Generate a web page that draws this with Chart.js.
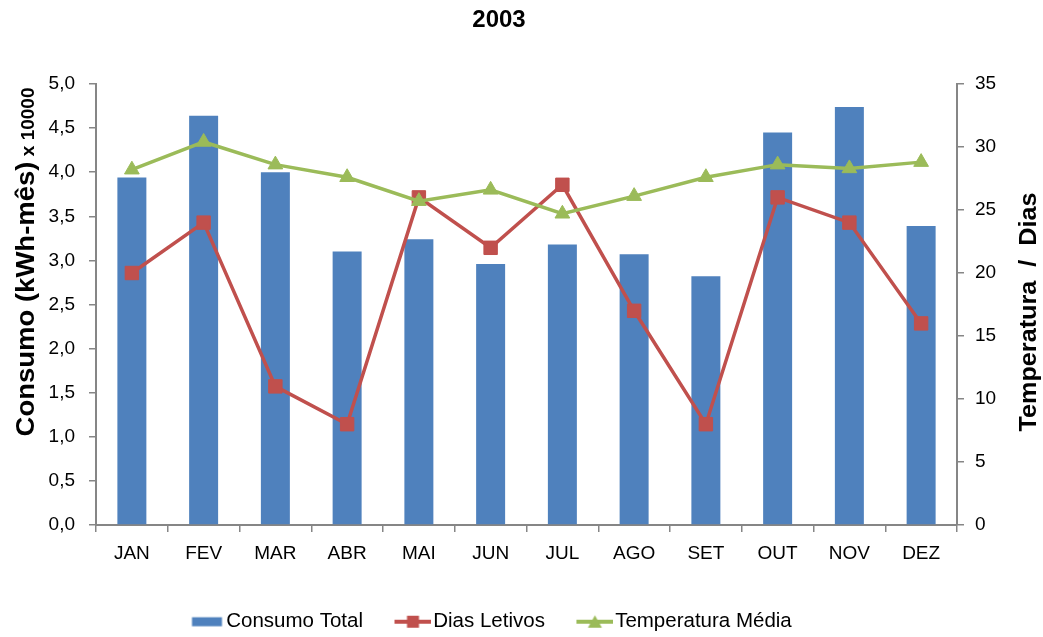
<!DOCTYPE html>
<html>
<head>
<meta charset="utf-8">
<title>2003</title>
<script src="https://cdn.jsdelivr.net/npm/chart.js@4/dist/chart.umd.min.js"></script>
<style>
    html, body { margin: 0; padding: 0; background: #fff; }
    #chart { display: block; }
</style>
</head>
<body>
<canvas id="chart" width="1043" height="637"></canvas>
<script>
const months = ["JAN", "FEV", "MAR", "ABR", "MAI", "JUN", "JUL", "AGO", "SET", "OUT", "NOV", "DEZ"];
const consumoTotal = [3.94, 4.64, 4.00, 3.10, 3.24, 2.96, 3.18, 3.07, 2.82, 4.45, 4.74, 3.39];
const diasLetivos = [20, 24, 11, 8, 26, 22, 27, 17, 8, 26, 24, 16];
const temperaturaMedia = [28.2, 30.4, 28.6, 27.6, 25.7, 26.6, 24.7, 26.1, 27.6, 28.6, 28.3, 28.8];

const leftTicks = [0, 0.5, 1, 1.5, 2, 2.5, 3, 3.5, 4, 4.5, 5];
const rightTicks = [0, 5, 10, 15, 20, 25, 30, 35];

const FONT = '"Liberation Sans", Arial, sans-serif';
const BLUE = "#4F81BD";
const RED = "#C0504D";
const GREEN = "#9BBB59";
const AXIS = "#868686";

// legend symbols: drawn right-aligned so the text sits close to them
function legendIcon(kind, color) {
    const c = document.createElement("canvas");
    c.width = 57;
    c.height = 16;
    const g = c.getContext("2d");
    g.fillStyle = color;
    g.strokeStyle = color;
    if (kind === "box") {
        g.fillRect(24.5, 3.5, 30, 9);
        return c;
    }
    g.lineWidth = 4;
    g.beginPath();
    g.moveTo(20, 8);
    g.lineTo(57, 8);
    g.stroke();
    g.beginPath();
    if (kind === "square") {
        g.rect(32.5, 2, 12, 12);
    } else {
        g.moveTo(38.5, 1.5);
        g.lineTo(45.5, 14);
        g.lineTo(31.5, 14);
        g.closePath();
    }
    g.fill();
    return c;
}

const icons = [legendIcon("box", BLUE), legendIcon("square", RED), legendIcon("triangle", GREEN)];

const titlesPlugin = {
    id: "titles",
    afterDraw(chart) {
        const ctx = chart.ctx;
        ctx.save();
        ctx.fillStyle = "#000";

        ctx.font = "bold 24px " + FONT;
        ctx.textAlign = "center";
        ctx.textBaseline = "middle";
        ctx.fillText("2003", 499, 20);

        // left axis title, two sizes on one rotated line
        const partA = "Consumo (kWh-mês)";
        const partB = " x 10000";
        const stretch = 1.1;
        ctx.textAlign = "left";
        ctx.textBaseline = "alphabetic";
        ctx.font = "bold 25px " + FONT;
        const wA = ctx.measureText(partA).width * stretch;
        ctx.font = "bold 19px " + FONT;
        const wB = ctx.measureText(partB).width;
        const start = -(wA + wB) / 2;
        ctx.save();
        ctx.translate(0, 262);
        ctx.rotate(-Math.PI / 2);
        ctx.save();
        ctx.translate(start, 34);
        ctx.scale(stretch, 1);
        ctx.font = "bold 25px " + FONT;
        ctx.fillText(partA, 0, 0);
        ctx.restore();
        ctx.font = "bold 19px " + FONT;
        ctx.fillText(partB, start + wA, 34);
        ctx.restore();

        // right axis title
        ctx.save();
        ctx.translate(1036, 312);
        ctx.rotate(-Math.PI / 2);
        ctx.scale(1.05, 1);
        ctx.font = "bold 24px " + FONT;
        ctx.textAlign = "center";
        ctx.fillText("Temperatura  /  Dias", 0, 0);
        ctx.restore();

        ctx.restore();
    }
};

const ctx = document.getElementById("chart").getContext("2d");

new Chart(ctx, {
    data: {
        labels: months,
        datasets: [
            {
                type: "bar",
                label: "Consumo Total",
                data: consumoTotal,
                yAxisID: "y",
                backgroundColor: BLUE,
                barPercentage: 0.404,
                categoryPercentage: 1,
                order: 3
            },
            {
                type: "line",
                label: "Dias Letivos",
                data: diasLetivos,
                yAxisID: "y1",
                borderColor: RED,
                backgroundColor: RED,
                borderWidth: 3.5,
                pointStyle: "rect",
                pointRadius: 9.5,
                pointBorderWidth: 1,
                tension: 0,
                order: 2
            },
            {
                type: "line",
                label: "Temperatura Média",
                data: temperaturaMedia,
                yAxisID: "y1",
                borderColor: GREEN,
                backgroundColor: GREEN,
                borderWidth: 3.5,
                pointStyle: "triangle",
                pointRadius: 8.5,
                pointBorderWidth: 1,
                tension: 0,
                order: 1
            }
        ]
    },
    options: {
        responsive: false,
        animation: false,
        // uneven side padding keeps the legend row where it belongs
        layout: { padding: { top: 84, left: -31.25, right: 44, bottom: -5 } },
        plugins: {
            title: { display: false },
            tooltip: { enabled: false },
            legend: {
                position: "bottom",
                labels: {
                    usePointStyle: true,
                    pointStyleWidth: 40,
                    padding: 20,
                    color: "#000",
                    font: { family: FONT, size: 20.5 },
                    generateLabels(chart) {
                        return chart.data.datasets.map((ds, i) => ({
                            text: ds.label,
                            pointStyle: icons[i],
                            fillStyle: ds.backgroundColor,
                            strokeStyle: ds.borderColor || ds.backgroundColor,
                            lineWidth: 0,
                            hidden: false,
                            datasetIndex: i
                        }));
                    }
                }
            }
        },
        scales: {
            x: {
                grid: { display: true, drawOnChartArea: false, offset: true, color: AXIS, tickLength: 7, lineWidth: 1.5 },
                border: { color: AXIS, width: 2 },
                ticks: { color: "#000", font: { family: FONT, size: 19 }, padding: 10 },
                afterFit(scale) { scale.height = 66.5; }
            },
            y: {
                position: "left",
                min: 0,
                max: 5,
                afterBuildTicks(scale) { scale.ticks = leftTicks.map(v => ({ value: v })); },
                grid: { display: true, drawOnChartArea: false, color: AXIS, tickLength: 7, lineWidth: 1.5 },
                border: { color: AXIS, width: 2 },
                ticks: {
                    color: "#000",
                    font: { family: FONT, size: 19 },
                    padding: 14,
                    callback: v => v.toFixed(1).replace(".", ",")
                },
                afterFit(scale) { scale.width = 127.25; }
            },
            y1: {
                position: "right",
                min: 0,
                max: 35,
                afterBuildTicks(scale) { scale.ticks = rightTicks.map(v => ({ value: v })); },
                grid: { display: true, drawOnChartArea: false, color: AXIS, tickLength: 7, lineWidth: 1.5 },
                border: { color: AXIS, width: 2 },
                ticks: { color: "#000", font: { family: FONT, size: 19 }, padding: 11 },
                afterFit(scale) { scale.width = 42; }
            }
        }
    },
    plugins: [titlesPlugin]
});
</script>
</body>
</html>
